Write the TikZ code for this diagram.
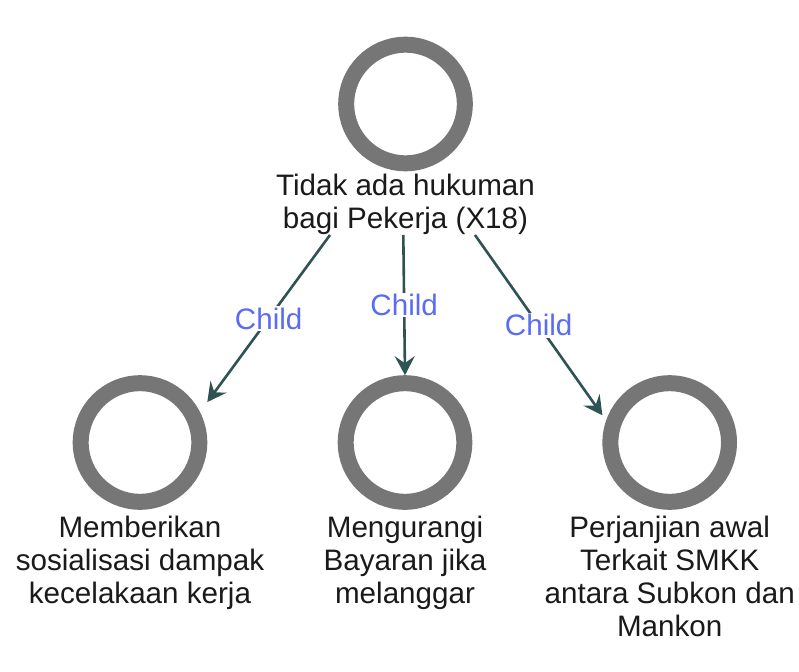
\documentclass[tikz,border=0pt]{standalone}
\usepackage{fontspec}
\setmainfont{Liberation Sans}
\usetikzlibrary{arrows.meta}
\definecolor{ringgray}{HTML}{767676}
\definecolor{linkteal}{HTML}{2F5252}
\definecolor{childblue}{HTML}{5A6CF2}
\definecolor{labelink}{HTML}{1A1A1A}
\begin{document}
\begin{tikzpicture}[x=1pt,y=-1pt,
  ring/.style={rectangle, minimum size=134.6pt, inner sep=0pt, outer sep=0pt,
    path picture={\draw[ringgray, line width=16pt]
      (path picture bounding box.center) circle[radius=59.3pt];}},
  caption/.style={align=center, anchor=north, inner sep=0pt, text=labelink,
    font=\fontsize{29.6}{33}\selectfont},
  link/.style={draw=linkteal, line width=2.6pt,
    -{Stealth[length=19pt, width=20pt, inset=7pt]}},
  linklabel/.style={fill=white, inner sep=1.5pt, text=childblue,
    font=\fontsize{29.6}{33}\selectfont}]
  \useasboundingbox[fill=white] (0,0) rectangle (799,671);

  % parent
  \node[ring] (p) at (405.5,104) {};
  \node[caption] (pt) at (405.5,174) {Tidak ada hukuman\\bagi Pekerja (X18)};

  % children
  \node[ring] (c1) at (140,442.5) {};
  \node[caption] (t1) at (140,515.5) {Memberikan\\sosialisasi dampak\\kecelakaan kerja};
  \node[ring] (c2) at (405,442.5) {};
  \node[caption] (t2) at (405,515.5) {Mengurangi\\Bayaran jika\\melanggar};
  \node[ring] (c3) at (669.7,442.5) {};
  \node[caption] (t3) at (669.7,515.5) {Perjanjian awal\\Terkait SMKK\\antara Subkon dan\\Mankon};

  % link start points under the parent caption
  \coordinate (s1) at (330,235);
  \coordinate (s2) at (403.3,235);
  \coordinate (s3) at (475,235);

  \draw[link] (s1) -- node[linklabel] {Child} (c1.31.5);
  \draw[link] (s2) -- node[linklabel] {Child} (c2.north);
  \draw[link] (s3) -- node[linklabel] {Child} (c3.158);
\end{tikzpicture}
\end{document}
